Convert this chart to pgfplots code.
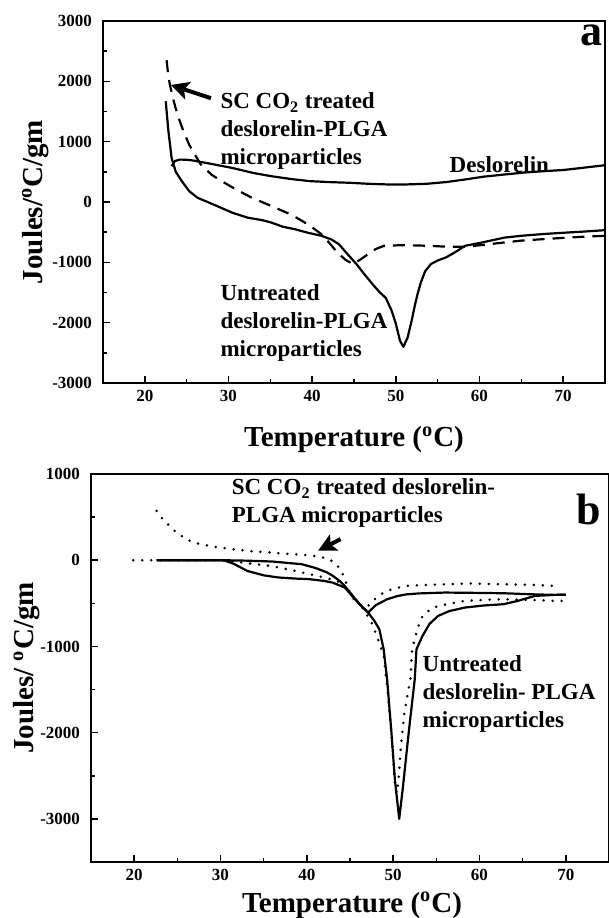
\documentclass[border=0pt]{standalone}
\usepackage{fontspec}
\setmainfont{Liberation Serif}
\usepackage{pgfplots}
\pgfplotsset{compat=1.18}
\usetikzlibrary{arrows.meta}

\pgfplotsset{
  dsc/.style={
    scale only axis, anchor=south west,
    xmin=15, xmax=75, xtick={20,30,...,70},
    minor x tick num=1, minor y tick num=1,
    tick align=inside, tick pos=left,
    major tick length=3.5pt, minor tick length=2pt,
    axis line style={line width=1pt},
    every tick/.style={black, line width=0.8pt},
    tick label style={font=\bfseries\fontsize{8.5}{10}\selectfont},
    yticklabel style={xshift=-2pt},
    label style={font=\bfseries\fontsize{14.5}{17}\selectfont},
    /pgf/number format/.cd, 1000 sep={}, assume math mode=true,
  },
  curve/.style={black, line width=1.1pt, line join=round},
}

\begin{document}
\begin{tikzpicture}[font=\bfseries]
\useasboundingbox (0,0) rectangle (304.5pt,459pt);

% panel a
\begin{axis}[dsc,
  at={(51.5pt,267.5pt)}, width=251pt, height=181pt,
  ymin=-3000, ymax=3000, ytick={-3000,-2000,...,3000},
  xlabel={Temperature (\textsuperscript{o}C)},
  ylabel={Joules/\textsuperscript{o}C/gm},
  xlabel style={at={(axis description cs:0.5,-0.157)}, anchor=center},
  ylabel style={at={(axis description cs:-0.135,0.5)}, anchor=center, rotate=0},
]
% untreated
\addplot[curve] coordinates {
  (22.5,1670)(22.8,1200)(23.2,730)(23.7,500)(24.4,350)(25.3,180)(26.3,70)
  (27.5,0)(28.6,-65)(30.5,-180)(32.3,-260)(34,-300)(35.1,-340)(36.5,-410)
  (37.9,-450)(39.5,-510)(41.1,-560)(42.3,-620)(43.2,-700)(44.2,-860)
  (45.3,-1030)(46.2,-1190)(47.2,-1360)(48.1,-1500)(48.8,-1590)(49.5,-1800)
  (50,-2016)(50.5,-2300)(50.9,-2400)(51.4,-2250)(51.9,-1960)(52.3,-1700)
  (52.6,-1525)(53,-1330)(53.5,-1150)(54.2,-1027)(55,-970)(56,-918)(57,-840)
  (58.3,-725)(60,-680)(63,-590)(65,-560)(67.7,-530)(70,-510)(72.5,-490)(75,-467)};
% SC CO2 treated
\addplot[curve, dash pattern=on 6pt off 4pt] coordinates {
  (22.6,2350)(22.8,2100)(23,1940)(23.4,1700)(23.9,1445)(24.6,1180)(25.3,950)
  (26,780)(26.7,620)(28,450)(29.5,320)(31,200)(32.8,70)(34.5,-30)(36,-120)
  (37.5,-210)(38.8,-313)(40,-420)(41.1,-533)(42,-670)(43,-835)(44,-960)
  (44.9,-1030)(45.8,-950)(46.7,-863)(47.6,-780)(48.6,-725)(51,-715)
  (53.7,-725)(56,-740)(58.3,-742)(60.5,-710)(63,-670)(65,-640)(67.7,-615)
  (70,-595)(72.5,-575)(75,-560)};
% deslorelin
\addplot[curve] coordinates {
  (23.2,593)(23.6,680)(24.2,703)(25,700)(25.8,687)(28,630)(30.4,566)(33,480)
  (35.1,428)(37.5,380)(39.7,346)(42,330)(44.4,319)(47,300)(49,291)(51,290)
  (53.7,302)(56,330)(58.3,374)(60.5,420)(63,456)(65.5,490)(67.7,511)(70,530)
  (72.3,566)(75,610)};
\draw[line width=2pt, -{Stealth[length=9pt,width=9pt,inset=2pt]}]
  (axis cs:27.9,1720) -- (axis cs:23.1,1940);
\node[anchor=west, align=left, font=\bfseries\fontsize{11.5}{14}\selectfont]
  at (axis cs:28.2,1170) {SC CO\textsubscript{2} treated\\deslorelin-PLGA\\microparticles};
\node[anchor=west, font=\bfseries\fontsize{11.5}{14}\selectfont]
  at (axis cs:55.6,620) {Deslorelin};
\node[anchor=west, align=left, font=\bfseries\fontsize{11.5}{14}\selectfont]
  at (axis cs:28.2,-2000) {Untreated\\deslorelin-PLGA\\microparticles};
\node[font=\bfseries\fontsize{22}{24}\selectfont] at (axis cs:73.4,2760) {a};
\end{axis}

% panel b
\begin{axis}[dsc,
  at={(45.5pt,28pt)}, width=259pt, height=194pt,
  ymin=-3500, ymax=1000, ytick={-3000,-2000,...,1000},
  xlabel={Temperature (\textsuperscript{o}C)},
  ylabel={Joules/ \textsuperscript{o}C/gm},
  xlabel style={at={(axis description cs:0.504,-0.111)}, anchor=center},
  ylabel style={at={(axis description cs:-0.124,0.5)}, anchor=center, rotate=0},
]
% SC CO2 treated, solid
\addplot[curve] coordinates {
  (22.6,0)(25,0)(28,0)(30.4,0)(33,-5)(36,-15)(39.4,-46)(41,-90)(42.3,-140)
  (43,-180)(43.8,-240)(44.4,-300)(45.2,-400)(46.2,-520)(47.1,-607)(48,-520)
  (49.3,-453)(50.5,-415)(51.6,-395)(53,-385)(56,-375)(59,-378)(62.8,-383)
  (66,-395)(68.7,-402)(70,-400)};
% untreated, solid
\addplot[curve] coordinates {
  (22.6,0)(30.4,0)(31.5,-40)(33.1,-124)(35,-175)(36.7,-200)(38.5,-212)
  (40.3,-220)(42,-240)(43,-260)(44.4,-317)(45.3,-420)(46.2,-520)(47.1,-607)
  (47.8,-700)(48.4,-800)(48.9,-1033)(49.3,-1380)(49.8,-2000)(50.2,-2543)
  (50.7,-3000)(51.1,-2660)(51.8,-2000)(52.5,-1380)(52.7,-1033)(53.4,-878)
  (54.2,-740)(55.2,-646)(56.5,-590)(58.3,-549)(60.5,-525)(62.8,-510)
  (64.5,-470)(66.4,-414)(68.7,-402)(70,-400)};
% SC CO2 treated, dotted
\addplot[curve, line width=1.4pt, line cap=round, dash pattern=on 0pt off 4.5pt] coordinates {
  (22.6,572)(23.1,500)(23.7,437)(25,310)(26.8,205)(29,160)(31.3,128)
  (33.5,105)(35.8,89)(38,72)(40.3,58)(41.5,40)(42.6,12)(43.3,-40)(43.9,-104)
  (44.4,-220)(44.8,-337)(45.3,-430)(45.7,-491)(46.4,-525)(47.1,-530)
  (48,-440)(48.9,-375)(50,-330)(51.6,-298)(53,-290)(56,-279)(59,-270)
  (62.8,-279)(66,-285)(68.7,-298)};
% untreated, dotted
\addplot[curve, line width=1.4pt, line cap=round, dash pattern=on 0pt off 4.5pt] coordinates {
  (19.9,0)(22.6,0)(26,0)(30,0)(32,-20)(34,-45)(35.8,-66)(38,-110)(40.3,-162)
  (42,-200)(43.5,-240)(44.5,-320)(45.5,-430)(46.5,-560)(47.5,-723)(48.2,-900)
  (48.9,-1110)(49.3,-1457)(49.8,-2000)(50.2,-2580)(50.4,-2700)(50.6,-2580)
  (50.9,-2155)(51.3,-1767)(52,-1380)(52.2,-1033)(52.8,-800)(53.4,-646)
  (54.3,-570)(55.2,-530)(58.3,-472)(60.5,-460)(62.8,-453)(66,-460)
  (68.7,-472)(70,-470)};
\draw[line width=2pt, -{Stealth[length=9pt,width=9pt,inset=2pt]}]
  (axis cs:43.9,244) -- (axis cs:41.3,110);
\node[anchor=west, align=left, font=\bfseries\fontsize{11.5}{14}\selectfont]
  at (axis cs:30.5,664) {SC CO\textsubscript{2} treated deslorelin-\\PLGA microparticles};
\node[anchor=west, align=left, font=\bfseries\fontsize{11.5}{14}\selectfont]
  at (axis cs:52.6,-1554) {Untreated\\deslorelin- PLGA\\microparticles};
\node[font=\bfseries\fontsize{22}{24}\selectfont] at (axis cs:72.6,592) {b};
\end{axis}
\end{tikzpicture}
\end{document}
